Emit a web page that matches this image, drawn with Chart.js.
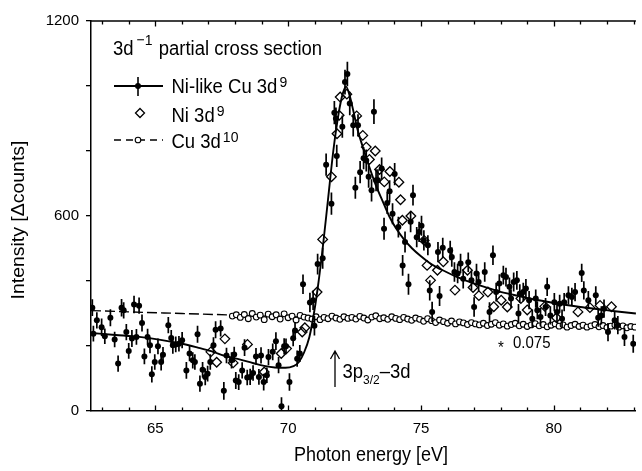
<!DOCTYPE html>
<html>
<head>
<meta charset="utf-8">
<script src="https://cdn.jsdelivr.net/npm/chart.js@4.4.1/dist/chart.umd.min.js"></script>
<style>
  html, body { margin: 0; padding: 0; background: #fff; }
  canvas { display: block; }
</style>
</head>
<body>
<canvas id="chart" width="642" height="471"></canvas>
<script>
// Ni-like Cu 3d9 : measured points (eV, counts) and error half-widths
const cuE = [
  62.63, 62.67, 62.80, 62.98, 63.10, 63.31, 63.47, 63.60, 63.73, 63.81,
  63.91, 64.00, 64.12, 64.20, 64.29, 64.39, 64.50, 64.59, 64.71, 64.80,
  64.87, 64.98, 65.10, 65.22, 65.29, 65.49, 65.60, 65.66, 65.77, 65.89,
  66.01, 66.17, 66.29, 66.41, 66.49, 66.59, 66.68, 66.78, 66.88, 66.97,
  67.07, 67.19, 67.27, 67.46, 67.58, 67.68, 67.87, 67.97, 68.03, 68.14,
  68.27, 68.36, 68.46, 68.57, 68.68, 68.79, 68.90, 68.98, 69.08, 69.20,
  69.26, 69.42, 69.54, 69.64, 69.75, 69.85, 69.92, 70.05, 70.19, 70.26,
  70.34, 70.44, 70.56, 70.82, 70.94, 70.99, 71.11, 71.30, 71.43, 71.63,
  71.74, 71.80, 71.83, 72.04, 72.14, 72.23, 72.32, 72.45, 72.53, 72.63,
  72.71, 72.84, 72.94, 73.03, 73.14, 73.23, 73.31, 73.38, 73.52, 73.61,
  73.73, 73.82, 73.93, 74.01, 74.15, 74.31, 74.40, 74.53, 74.61, 74.70,
  74.84, 74.93, 75.02, 75.11, 75.26, 75.33, 75.42, 75.64, 75.70, 75.82,
  76.10, 76.16, 76.26, 76.38, 76.49, 76.59, 76.78, 76.90, 77.00, 77.09,
  77.17, 77.40, 77.58, 77.71, 77.83, 77.95, 78.10, 78.20, 78.33, 78.39,
  78.49, 78.61, 78.67, 78.72, 78.85, 78.95, 79.07, 79.19, 79.32, 79.38,
  79.50, 79.69, 79.75, 79.87, 80.02, 80.12, 80.22, 80.31, 80.39, 80.55,
  80.68, 80.80, 81.05, 81.13, 81.30, 81.58, 81.67, 81.79, 81.89, 82.04,
  82.29, 82.41, 82.66, 82.99
];
const cuI = [
  318, 238, 279, 258, 230, 287, 220, 146, 318, 310,
  243, 185, 223, 328, 228, 324, 271, 168, 228, 202,
  113, 151, 199, 151, 173, 264, 225, 202, 205, 207,
  218, 125, 177, 156, 151, 236, 84, 127, 105, 115,
  151, 202, 250, 254, 62, 171, 156, 174, 94, 89,
  125, 195, 103, 105, 117, 168, 105, 171, 89, 110,
  166, 182, 215, 141, 15, 199, 199, 89, 224, 248,
  161, 177, 390, 334, 341, 262, 452, 470, 758, 638,
  918, 900, 785, 875, 1012, 1037, 946, 879, 687, 879,
  735, 778, 771, 721, 679, 921, 710, 710, 746, 561,
  640, 676, 607, 729, 566, 448, 520, 390, 582, 664,
  535, 551, 570, 525, 510, 371, 305, 489, 354, 502,
  494, 474, 428, 423, 454, 407, 458, 402, 320, 423,
  397, 428, 305, 479, 366, 392, 418, 412, 382, 346,
  397, 402, 300, 361, 366, 377, 341, 284, 346, 310,
  289, 320, 382, 294, 335, 305, 330, 284, 335, 356,
  351, 366, 425, 371, 341, 356, 287, 294, 315, 243,
  279, 264, 228, 207
];
const cuErr = [
  26, 24, 25, 27, 24, 26, 24, 25, 27, 25,
  25, 24, 26, 27, 24, 25, 26, 24, 25, 24,
  25, 24, 24, 26, 24, 25, 24, 26, 24, 24,
  25, 26, 24, 25, 24, 26, 25, 24, 26, 24,
  24, 25, 26, 25, 27, 24, 25, 24, 26, 24,
  25, 26, 24, 25, 24, 26, 24, 25, 26, 24,
  25, 26, 27, 25, 27, 25, 24, 27, 25, 26,
  25, 26, 30, 30, 30, 30, 32, 32, 34, 34,
  36, 34, 34, 34, 38, 38, 36, 34, 34, 34,
  34, 34, 34, 34, 34, 38, 34, 34, 34, 34,
  34, 34, 32, 34, 32, 32, 32, 32, 32, 32,
  31, 31, 31, 31, 31, 31, 31, 31, 31, 31,
  30, 30, 30, 30, 30, 30, 30, 30, 30, 30,
  30, 30, 30, 30, 29, 29, 29, 29, 29, 29,
  29, 29, 29, 29, 29, 29, 28, 28, 28, 28,
  28, 28, 28, 28, 28, 28, 28, 28, 28, 28,
  28, 28, 28, 28, 28, 28, 28, 28, 28, 28,
  28, 28, 28, 28
];

// solid fit curve through the Ni-like Cu 3d9 data
const fitE = [62.58, 63.5, 64.4, 65.2, 66.0, 66.6, 67.1, 67.6, 68.2, 68.7,
  69.1, 69.5, 69.9, 70.2, 70.4, 70.6, 70.8, 70.95, 71.1, 71.3,
  71.5, 71.7, 71.9, 72.05, 72.18, 72.3, 72.45, 72.6, 72.8, 73.06,
  73.3, 73.56, 73.8, 74.06, 74.36, 74.67, 75.0, 75.3, 75.6, 75.9,
  76.3, 76.8, 77.3, 77.9, 78.5, 79.1, 79.75, 80.4, 81.0, 81.7,
  82.3, 83.09];
const fitI = [240, 234, 228, 219, 207, 195, 184, 170, 158, 147,
  139, 134, 133, 138, 150, 180, 228, 290, 370, 500,
  650, 800, 915, 975, 998, 975, 925, 870, 815, 750,
  695, 645, 600, 562, 528, 500, 476, 457, 442, 430,
  414, 398, 384, 369, 357, 346, 336, 327, 320, 313,
  307, 300];

// Ni 3d9 (open diamonds)
const niE = [67.09, 67.31, 67.62, 67.93, 68.47, 69.10, 69.74, 69.94, 70.53, 70.63,
  71.09, 71.30, 71.63, 71.84, 71.92, 71.96, 72.21, 72.58, 72.81, 72.94,
  73.06, 73.28, 73.44, 73.62, 73.83, 74.17, 74.23, 74.30, 74.62, 75.12,
  75.23, 75.36, 75.62, 75.84, 76.28, 76.75, 76.96, 77.18, 77.52, 77.74,
  78.02, 78.25, 78.76, 79.00, 79.66, 80.10, 80.91, 81.36, 81.74, 82.17];
const niI = [182, 150, 222, 148, 205, 120, 177, 192, 243, 256,
  366, 528, 721, 853, 910, 966, 975, 908, 848, 812,
  774, 800, 743, 705, 737, 704, 650, 587, 600, 525,
  448, 402, 433, 459, 372, 433, 380, 355, 366, 321,
  341, 320, 346, 311, 322, 287, 305, 318, 325, 321];

// Cu 3d10 (open circles, scaled * 0.075)
const cu10E = [
  67.9, 68.05, 68.2, 68.35, 68.5, 68.65, 68.8, 68.95, 69.1, 69.25,
  69.4, 69.55, 69.7, 69.85, 70.0, 70.15, 70.3, 70.45, 70.6, 70.75,
  70.9, 71.05, 71.2, 71.35, 71.5, 71.65, 71.8, 71.95, 72.1, 72.25,
  72.4, 72.55, 72.7, 72.85, 73.0, 73.15, 73.3, 73.45, 73.6, 73.75,
  73.9, 74.05, 74.2, 74.35, 74.5, 74.65, 74.8, 74.95, 75.1, 75.25,
  75.4, 75.55, 75.7, 75.85, 76.0, 76.15, 76.3, 76.45, 76.6, 76.75,
  76.9, 77.05, 77.2, 77.35, 77.5, 77.65, 77.8, 77.95, 78.1, 78.25,
  78.4, 78.55, 78.7, 78.85, 79.0, 79.15, 79.3, 79.45, 79.6, 79.75,
  79.9, 80.05, 80.2, 80.35, 80.5, 80.65, 80.8, 80.95, 81.1, 81.25,
  81.4, 81.55, 81.7, 81.85, 82.0, 82.15, 82.3, 82.45, 82.6, 82.75,
  82.9, 83.05
];
const cu10I = [
  292, 296, 288, 297, 284, 300, 289, 295, 281, 298,
  290, 296, 283, 299, 287, 292, 280, 294, 289, 286,
  283, 290, 281, 288, 284, 292, 286, 282, 290, 285,
  288, 283, 291, 286, 280, 289, 293, 284, 287, 282,
  290, 285, 281, 288, 283, 279, 286, 282, 276, 284,
  278, 272, 280, 275, 270, 277, 268, 274, 271, 266,
  272, 268, 265, 270, 263, 267, 272, 264, 268, 261,
  266, 270, 262, 267, 260, 265, 269, 262, 266, 259,
  264, 268, 261, 265, 258, 263, 267, 260, 264, 258,
  262, 266, 259, 263, 257, 261, 265, 258, 262, 256,
  260, 258
];

// dashed curve for Cu 3d10
const dashE = [62.58, 64, 66, 68, 70, 72, 74, 76, 78, 80, 83.09];
const dashI = [309, 305, 300, 295, 290, 287, 283, 273, 266, 262, 258];

const xTickLabels = [65, 70, 75, 80];
const yTickLabels = [0, 600, 1200];

const FONT = "'Liberation Sans', Arial, Helvetica, sans-serif";
const STRETCH = 1.08; // text in the figure is slightly taller than wide

function pts(xs, ys) {
  return xs.map((x, i) => ({ x: x, y: ys[i] }));
}

// draw text with the slight vertical stretch, returns width
function txt(ctx, s, x, y, size, align) {
  ctx.save();
  ctx.font = size + 'px ' + FONT;
  ctx.textAlign = align || 'left';
  ctx.textBaseline = 'alphabetic';
  ctx.fillStyle = '#000';
  ctx.translate(x, y);
  ctx.scale(1, STRETCH);
  ctx.fillText(s, 0, 0);
  const w = ctx.measureText(s).width;
  ctx.restore();
  return w;
}

const decorations = {
  id: 'decorations',
  beforeDatasetDraw(chart, args) {
    if (args.index !== 0) return;
    const { ctx, chartArea, scales: { x, y } } = chart;
    ctx.save();
    ctx.beginPath();
    ctx.rect(chartArea.left, chartArea.top, chartArea.right - chartArea.left, chartArea.bottom - chartArea.top);
    ctx.clip();
    ctx.strokeStyle = '#000';
    ctx.lineWidth = 1.7;
    ctx.beginPath();
    cuE.forEach((e, i) => {
      const px = x.getPixelForValue(e);
      ctx.moveTo(px, y.getPixelForValue(cuI[i] - cuErr[i]));
      ctx.lineTo(px, y.getPixelForValue(cuI[i] + cuErr[i]));
    });
    ctx.stroke();
    ctx.restore();
  },
  afterDraw(chart) {
    const { ctx, chartArea: a, scales: { x } } = chart;
    ctx.save();
    ctx.strokeStyle = '#000';

    // top axis line
    ctx.lineWidth = 1.5;
    ctx.beginPath();
    ctx.moveTo(a.left, a.top);
    ctx.lineTo(a.right, a.top);
    ctx.stroke();

    // inward x ticks, bottom and top
    ctx.lineWidth = 1.3;
    ctx.beginPath();
    x.ticks.forEach(t => {
      const px = Math.round(x.getPixelForValue(t.value)) + 0.5;
      const len = xTickLabels.includes(t.value) ? 5.5 : 3.5;
      ctx.moveTo(px, a.bottom);
      ctx.lineTo(px, a.bottom - len);
      ctx.moveTo(px, a.top);
      ctx.lineTo(px, a.top + len);
    });
    ctx.stroke();

    // axis titles
    txt(ctx, 'Photon energy [eV]', 371, 461, 18, 'center');
    ctx.save();
    ctx.translate(24, 220);
    ctx.rotate(-Math.PI / 2);
    ctx.scale(STRETCH, 1);
    ctx.font = '18px ' + FONT;
    ctx.textAlign = 'center';
    ctx.fillStyle = '#000';
    ctx.fillText('Intensity [\u0394counts]', 0, 0);
    ctx.restore();

    // legend title
    let w = txt(ctx, '3d', 113, 55, 18.5);
    let sx = 113 + w + 3;
    w = txt(ctx, '\u22121', sx, 45, 14);
    txt(ctx, ' partial cross section', sx + w + 1, 55, 18.5);

    // entry 1: line with errorbar point
    ctx.lineWidth = 1.8;
    ctx.beginPath();
    ctx.moveTo(114, 86);
    ctx.lineTo(163, 86);
    ctx.stroke();
    ctx.lineWidth = 1.6;
    ctx.beginPath();
    ctx.moveTo(138, 77);
    ctx.lineTo(138, 96);
    ctx.stroke();
    ctx.fillStyle = '#000';
    ctx.beginPath();
    ctx.arc(138, 86, 3, 0, Math.PI * 2);
    ctx.fill();
    w = txt(ctx, 'Ni-like Cu 3d', 171.5, 93, 18.5);
    txt(ctx, '9', 171.5 + w + 2, 87, 14);

    // entry 2: diamond
    ctx.lineWidth = 1.3;
    ctx.beginPath();
    ctx.moveTo(140, 108.5);
    ctx.lineTo(144.5, 113);
    ctx.lineTo(140, 117.5);
    ctx.lineTo(135.5, 113);
    ctx.closePath();
    ctx.stroke();
    w = txt(ctx, 'Ni 3d', 171.5, 122, 18.5);
    txt(ctx, '9', 171.5 + w + 2, 116, 14);

    // entry 3: dashed line with open circle
    ctx.lineWidth = 1.3;
    ctx.setLineDash([7, 5]);
    ctx.beginPath();
    ctx.moveTo(114, 140);
    ctx.lineTo(163, 140);
    ctx.stroke();
    ctx.setLineDash([]);
    ctx.fillStyle = '#fff';
    ctx.lineWidth = 1.1;
    ctx.beginPath();
    ctx.arc(138, 140, 2.8, 0, Math.PI * 2);
    ctx.fill();
    ctx.stroke();
    w = txt(ctx, 'Cu 3d', 171.5, 148, 18.5);
    txt(ctx, '10', 171.5 + w + 2, 142, 14);

    // scale note
    txt(ctx, '*', 498, 353, 15);
    txt(ctx, '0.075', 513, 348, 15);

    // arrow for 3p3/2-3d threshold
    ctx.lineWidth = 1.3;
    ctx.beginPath();
    ctx.moveTo(335, 387);
    ctx.lineTo(335, 351);
    ctx.moveTo(330.5, 359);
    ctx.lineTo(335, 351);
    ctx.lineTo(339.5, 359);
    ctx.stroke();
    w = txt(ctx, '3p', 342.5, 378, 18.5);
    let s2 = 342.5 + w;
    w = txt(ctx, '3/2', s2, 384, 12);
    txt(ctx, '\u20133d', s2 + w, 378, 18.5);

    ctx.restore();
  }
};

new Chart(document.getElementById('chart'), {
  type: 'scatter',
  data: {
    datasets: [
      {
        label: 'Ni-like Cu 3d9',
        data: pts(cuE, cuI),
        pointRadius: 3,
        pointBackgroundColor: '#000',
        pointBorderColor: '#000',
        pointBorderWidth: 0
      },
      {
        label: 'Ni 3d9',
        data: pts(niE, niI),
        pointStyle: 'rectRot',
        pointRadius: 4.8,
        pointBackgroundColor: 'rgba(0,0,0,0)',
        pointBorderColor: '#000',
        pointBorderWidth: 1.3
      },
      {
        type: 'line',
        label: 'fit',
        data: pts(fitE, fitI),
        showLine: true,
        borderColor: '#000',
        borderWidth: 1.9,
        pointRadius: 0,
        cubicInterpolationMode: 'monotone',
        fill: false
      },
      {
        label: 'Cu 3d10',
        data: pts(cu10E, cu10I),
        pointRadius: 2.9,
        pointBackgroundColor: '#fff',
        pointBorderColor: '#000',
        pointBorderWidth: 1.1
      },
      {
        type: 'line',
        label: 'Cu 3d10 fit',
        data: pts(dashE, dashI),
        showLine: true,
        borderColor: '#000',
        borderWidth: 1.4,
        borderDash: [10, 4],
        pointRadius: 0,
        cubicInterpolationMode: 'monotone',
        fill: false
      }
    ]
  },
  options: {
    responsive: false,
    animation: false,
    devicePixelRatio: 1,
    events: [],
    layout: { padding: { top: 21, right: 0, left: 0, bottom: 0 } },
    plugins: {
      legend: { display: false },
      tooltip: { enabled: false }
    },
    scales: {
      x: {
        type: 'linear',
        min: 62.58,
        max: 83.09,
        afterFit(s) { s.height = 60; },
        grid: { display: false },
        border: { display: true, color: '#000', width: 1.5 },
        ticks: {
          stepSize: 1,
          includeBounds: false,
          autoSkip: false,
          maxRotation: 0,
          padding: 1,
          color: '#000',
          font: { family: FONT, size: 15 },
          callback: v => xTickLabels.includes(v) ? String(v) : ''
        }
      },
      y: {
        type: 'linear',
        min: 0,
        max: 1200,
        afterFit(s) { s.width = 91; },
        grid: { drawOnChartArea: false, drawTicks: true, tickLength: 5, color: '#000', lineWidth: 1.3 },
        border: { display: true, color: '#000', width: 1.5 },
        ticks: {
          stepSize: 200,
          padding: 7,
          color: '#000',
          font: { family: FONT, size: 15 },
          callback: v => yTickLabels.includes(v) ? String(v) : ''
        }
      }
    }
  },
  plugins: [decorations]
});
</script>
</body>
</html>
